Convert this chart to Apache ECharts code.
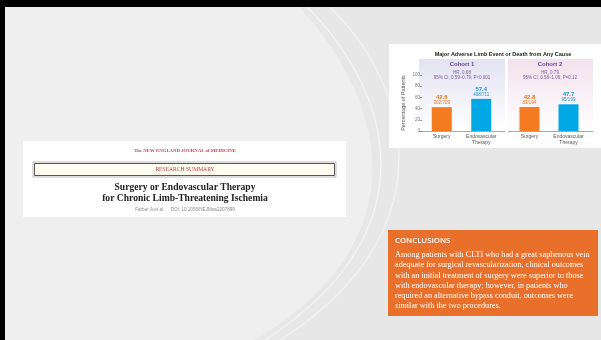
<!DOCTYPE html>
<html>
<head>
<meta charset="utf-8">
<script src="https://cdn.jsdelivr.net/npm/echarts@6/dist/echarts.min.js"></script>
<style>
  html, body { margin: 0; padding: 0; background: #e8e7e7; }
  #main { width: 601px; height: 340px; }
</style>
</head>
<body>
<div id="main"></div>
<script>
// data
const groups = ['Surgery', 'Endovascular\nTherapy'];
const cohortNames = ['Cohort 1', 'Cohort 2'];
const cohort1Pct = [42.6, 57.4];
const cohort2Pct = [42.8, 47.7];
const cohort1Counts = ['302/709', '408/711'];
const cohort2Counts = ['83/194', '95/199'];
const hrLines = ['HR, 0.68', 'HR, 0.79'];
const ciLines = ['95% CI, 0.59\u20130.79; P<0.001', '95% CI, 0.58\u20131.06; P=0.12'];
const yTicks = [0, 20, 40, 60, 80, 100];

const conclusionText = [
  'Among patients with CLTI who had a great saphenous vein',
  'adequate for surgical revascularization, clinical outcomes',
  'with an initial treatment of surgery were superior to those',
  'with endovascular therapy; however, in patients who',
  'required an alternative bypass conduit, outcomes were',
  'similar with the two procedures.'
];

const ORANGE = '#f47b20';
const BLUE = '#00a9e6';
const barColors = [ORANGE, BLUE];
const labelColors = ['#e8731e', '#1d8fd3'];
const PURPLE = '#6a3d8f';
const serif = '"Liberation Serif", "DejaVu Serif", serif';
const sans = '"Liberation Sans", Arial, sans-serif';

let myChart = echarts.init(document.getElementById('main'));

function barData(vals, counts) {
  return vals.map(function (v, i) {
    return {
      value: v,
      itemStyle: { color: barColors[i] },
      label: {
        formatter: '{v|' + v.toFixed(1) + '}\n{c|' + counts[i] + '}',
        rich: {
          v: { fontSize: 6, fontWeight: 'bold', color: labelColors[i], fontFamily: sans, lineHeight: 6, align: 'center' },
          c: { fontSize: 4.5, color: labelColors[i], fontFamily: sans, lineHeight: 5, align: 'center' }
        }
      }
    };
  });
}

function xAxisFor(idx) {
  return {
    type: 'category',
    gridIndex: idx,
    data: groups,
    z: 5,
    axisLine: { show: false },
    axisTick: { show: false },
    axisLabel: { interval: 0, fontSize: 5, color: '#555', fontFamily: sans, lineHeight: 6, margin: 3 }
  };
}

function yAxisFor(idx) {
  return {
    type: 'value',
    gridIndex: idx,
    min: yTicks[0],
    max: yTicks[yTicks.length - 1],
    interval: 20,
    z: 5,
    name: idx === 0 ? 'Percentage of Patients' : '',
    nameLocation: 'middle',
    nameGap: 16,
    nameRotate: 90,
    nameTextStyle: { fontSize: 5.5, color: '#555', fontFamily: sans },
    axisLine: { show: false },
    axisTick: { show: idx === 0, length: 2, lineStyle: { color: '#999' } },
    axisLabel: { show: idx === 0, fontSize: 4.5, color: '#777', fontFamily: sans, margin: 2 },
    splitLine: { show: false }
  };
}

// sample a cubic curve for the slide swoosh
function cubicPts(p0, p1, p2, p3, n) {
  let pts = [];
  for (let k = 0; k <= n; k++) {
    let t = k / n, u = 1 - t;
    pts.push([
      u * u * u * p0[0] + 3 * u * u * t * p1[0] + 3 * u * t * t * p2[0] + t * t * t * p3[0],
      u * u * u * p0[1] + 3 * u * u * t * p1[1] + 3 * u * t * t * p2[1] + t * t * t * p3[1]
    ]);
  }
  return pts;
}
let swoosh = cubicPts([293, 0], [380, 90], [430, 235], [255, 340], 60);
let lightArea = [[0, 0]].concat(swoosh).concat([[0, 340]]);

function curve(x1, y1, c1x, c1y, c2x, c2y, x2, y2, color) {
  return {
    type: 'bezierCurve', z: 0,
    shape: { x1: x1, y1: y1, cpx1: c1x, cpy1: c1y, cpx2: c2x, cpy2: c2y, x2: x2, y2: y2 },
    style: { fill: null, stroke: color, lineWidth: 1.2 }
  };
}

// panel backgrounds and texts
const panels = [
  { x: 419, w: 86, top: '#e3e2f2', cx: 462 },
  { x: 508, w: 85, top: '#f3e1ee', cx: 550 }
];
let panelGraphics = [];
panels.forEach(function (p, i) {
  panelGraphics.push({
    type: 'rect', z: 1,
    shape: { x: p.x, y: 59, width: p.w, height: 72 },
    style: {
      fill: new echarts.graphic.LinearGradient(0, 0, 0, 1, [
        { offset: 0, color: p.top },
        { offset: 1, color: '#ffffff' }
      ])
    }
  });
  panelGraphics.push({
    type: 'line', z: 1,
    shape: { x1: p.x, y1: 131.5, x2: p.x + p.w, y2: 131.5 },
    style: { stroke: '#a8a8a8', lineWidth: 1 }
  });
  panelGraphics.push({
    type: 'text', z: 3,
    style: { text: cohortNames[i], x: p.cx, y: 64.5, align: 'center', verticalAlign: 'middle',
      font: 'bold 6px ' + sans, fill: PURPLE }
  });
  panelGraphics.push({
    type: 'text', z: 3,
    style: { text: hrLines[i], x: p.cx, y: 73, align: 'center', verticalAlign: 'middle',
      font: '4.5px ' + sans, fill: '#7a58a0' }
  });
  panelGraphics.push({
    type: 'text', z: 3,
    style: { text: ciLines[i], x: p.cx, y: 78, align: 'center', verticalAlign: 'middle',
      font: '4.5px ' + sans, fill: '#7a58a0' }
  });
});

let option = {
  backgroundColor: '#e8e7e7',
  animation: false,
  title: {
    text: 'Major Adverse Limb Event or Death from Any Cause',
    left: 503, top: 51, padding: 0, textAlign: 'center', z: 5,
    textStyle: { fontSize: 5.5, fontWeight: 'bold', color: '#222', fontFamily: sans, lineHeight: 6 }
  },
  grid: [
    { left: 422, top: 75, width: 79, height: 56 },
    { left: 510, top: 75, width: 78, height: 56 }
  ],
  xAxis: [xAxisFor(0), xAxisFor(1)],
  yAxis: [yAxisFor(0), yAxisFor(1)],
  series: [
    {
      type: 'bar', xAxisIndex: 0, yAxisIndex: 0, barWidth: 20, z: 2,
      label: { show: true, position: 'top', distance: 2 },
      data: barData(cohort1Pct, cohort1Counts)
    },
    {
      type: 'bar', xAxisIndex: 1, yAxisIndex: 1, barWidth: 20, z: 2,
      label: { show: true, position: 'top', distance: 2 },
      data: barData(cohort2Pct, cohort2Counts)
    }
  ],
  graphic: [
    // slide background: lighter area left of the swoosh
    { type: 'polygon', z: 0, shape: { points: lightArea }, style: { fill: '#efefef' } },
    curve(307, 7, 390, 90, 435, 230, 265, 340, '#f5f5f5'),
    curve(330, 7, 415, 90, 445, 235, 280, 340, '#f3f3f3'),
    // black frame
    { type: 'rect', z: 0, shape: { x: 0, y: 0, width: 601, height: 7 }, style: { fill: '#000' } },
    { type: 'rect', z: 0, shape: { x: 0, y: 0, width: 5, height: 340 }, style: { fill: '#000' } },
    // chart card
    { type: 'rect', z: 0, shape: { x: 389, y: 44, width: 212, height: 104 }, style: { fill: '#ffffff' } },
    // NEJM card
    { type: 'rect', z: 0, shape: { x: 23, y: 141, width: 323, height: 76 }, style: { fill: '#ffffff' } },
    { type: 'text', z: 3,
      style: { text: 'The NEW ENGLAND JOURNAL of MEDICINE', x: 185, y: 151, align: 'center', verticalAlign: 'middle',
        font: 'bold 4.8px ' + serif, fill: '#c8404a' } },
    { type: 'rect', z: 1, shape: { x: 33, y: 162, width: 303, height: 15 },
      style: { fill: '#ffffff', stroke: '#bbbbbb', lineWidth: 1 } },
    { type: 'rect', z: 2, shape: { x: 34.5, y: 163.5, width: 300, height: 12 },
      style: { fill: '#fffdf0', stroke: '#555555', lineWidth: 1 } },
    { type: 'text', z: 3,
      style: { text: 'RESEARCH SUMMARY', x: 185, y: 169.5, align: 'center', verticalAlign: 'middle',
        font: '5.6px ' + serif, fill: '#c8404a' } },
    { type: 'text', z: 3,
      style: { text: 'Surgery or Endovascular Therapy', x: 185, y: 187.5, align: 'center', verticalAlign: 'middle',
        font: 'bold 9.6px ' + serif, fill: '#222' } },
    { type: 'text', z: 3,
      style: { text: 'for Chronic Limb-Threatening Ischemia', x: 185, y: 199, align: 'center', verticalAlign: 'middle',
        font: 'bold 9.6px ' + serif, fill: '#222' } },
    { type: 'text', z: 3,
      style: { text: 'Farber A et al.     DOI: 10.1056/NEJMoa2207899', x: 185, y: 210, align: 'center', verticalAlign: 'middle',
        font: '4.6px ' + sans, fill: '#888' } },
    // conclusions card
    { type: 'rect', z: 0, shape: { x: 388, y: 230, width: 210, height: 86 }, style: { fill: '#e8702a' } },
    { type: 'text', z: 3,
      style: { text: 'CONCLUSIONS', x: 395, y: 241, align: 'left', verticalAlign: 'middle',
        font: '600 7.8px "Open Sans", sans-serif', fill: '#ffffff' } },
    { type: 'text', z: 3,
      style: { text: conclusionText.join('\n'), x: 395, y: 250, align: 'left', verticalAlign: 'top',
        font: '8.2px ' + serif, lineHeight: 10.2, fill: '#ffffff' } }
  ].concat(panelGraphics)
};

myChart.setOption(option);
</script>
</body>
</html>
